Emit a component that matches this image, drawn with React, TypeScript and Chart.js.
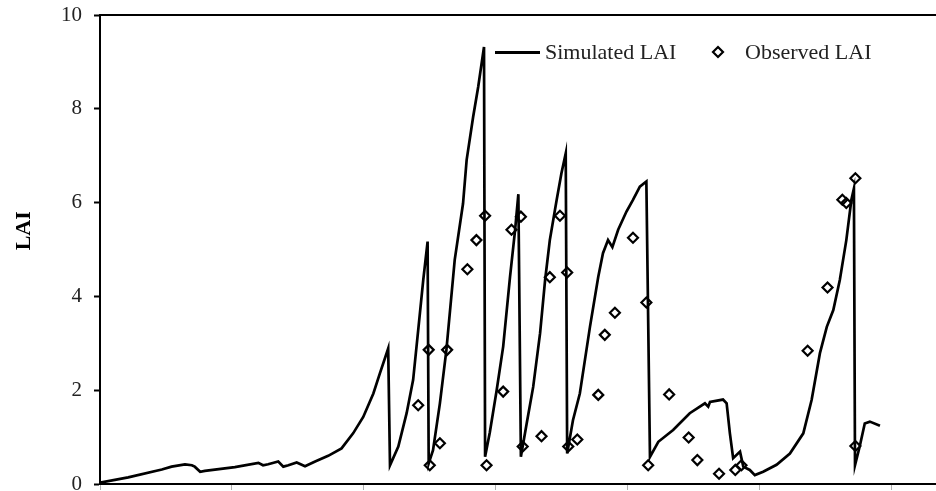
import React, { useEffect, useRef } from "react";
import { Chart, registerables } from "chart.js";

Chart.register(...registerables);

// Days since start of the simulation
const simDays = [
  0, 78, 171, 198, 235, 254, 262, 277, 290, 373, 438, 451, 465, 493, 507, 521, 544, 567, 595, 631,
  668, 700, 728, 756, 774, 797, 802, 825, 848, 866, 880, 894, 906, 909, 921, 940, 958, 981, 1004,
  1014, 1032, 1046, 1062, 1065, 1078, 1097, 1115, 1134, 1148, 1157, 1164, 1180, 1198, 1217, 1231,
  1244, 1263, 1276, 1288, 1292, 1308, 1327, 1355, 1378, 1391, 1405, 1417, 1433, 1456, 1474, 1493,
  1511, 1521, 1544, 1585, 1631, 1673, 1682, 1687, 1723, 1733, 1742, 1751, 1770, 1779, 1797, 1811,
  1834, 1871, 1908, 1945, 1968, 1991, 2010, 2028, 2046, 2064, 2078, 2085, 2088, 2101, 2115, 2129, 2157,
];
const simLAI = [
  0.03, 0.14, 0.31, 0.37, 0.42, 0.4, 0.37, 0.26, 0.28, 0.36, 0.45, 0.4, 0.42, 0.48, 0.37, 0.4, 0.46,
  0.38, 0.48, 0.6, 0.76, 1.08, 1.43, 1.93, 2.36, 2.89, 0.4, 0.8, 1.51, 2.22, 3.28, 4.35, 5.17, 0.44,
  0.72, 1.72, 2.86, 4.78, 5.98, 6.91, 7.83, 8.47, 9.32, 0.58, 1.1, 2.0, 2.93, 4.42, 5.42, 6.18, 0.58,
  1.29, 2.07, 3.21, 4.35, 5.2, 6.06, 6.62, 7.05, 0.65, 1.36, 1.93, 3.35, 4.42, 4.92, 5.2, 5.05, 5.42,
  5.81, 6.06, 6.34, 6.45, 0.58, 0.9, 1.15, 1.51, 1.72, 1.65, 1.75, 1.8, 1.72, 1.08, 0.55, 0.69, 0.37,
  0.3, 0.19, 0.26, 0.41, 0.65, 1.08, 1.79, 2.79, 3.35, 3.71, 4.35, 5.2, 6.06, 6.3, 0.4, 0.8, 1.29,
  1.33, 1.24,
];

const obsDays = [
  880, 909, 912, 940, 960, 1016, 1041, 1065, 1069, 1115, 1138, 1164, 1169, 1221, 1244, 1272, 1292,
  1295, 1320, 1378, 1396, 1424, 1474, 1511, 1516, 1574, 1628, 1652, 1712, 1757, 1774, 1957, 2012,
  2053, 2064, 2089, 2089,
];
const obsLAI = [
  1.68, 2.86, 0.4, 0.87, 2.86, 4.58, 5.2, 5.72, 0.4, 1.97, 5.42, 5.7, 0.8, 1.02, 4.41, 5.72, 4.51,
  0.8, 0.95, 1.9, 3.18, 3.65, 5.25, 3.87, 0.4, 1.91, 0.99, 0.51, 0.22, 0.3, 0.4, 2.84, 4.19, 6.06,
  5.99, 6.52, 0.81,
];

const xTicks = [0, 365, 730, 1095, 1460, 1825, 2190];
const yTicks = [0, 2, 4, 6, 8, 10];
const seriesNames = ["Simulated LAI", "Observed LAI"];
const yTitle = "LAI";

const FONT = "'Liberation Serif', 'Times New Roman', serif";

const frame = {
  id: "frame",
  afterDraw(chart: any) {
    const { ctx, chartArea } = chart;
    ctx.save();
    ctx.strokeStyle = "#000";
    ctx.lineWidth = 2;
    ctx.beginPath();
    ctx.moveTo(chartArea.left - 1, chartArea.top);
    ctx.lineTo(chartArea.right, chartArea.top);
    ctx.stroke();
    // y-axis title, set a little above the middle of the axis as in the original
    const yScale = chart.scales.y;
    ctx.translate(yScale.left + 24, chartArea.top + chartArea.height * 0.46);
    ctx.rotate(-Math.PI / 2);
    ctx.fillStyle = "#000";
    ctx.font = `bold 22px ${FONT}`;
    ctx.textAlign = "center";
    ctx.textBaseline = "middle";
    ctx.fillText(yTitle, 0, 0);
    ctx.restore();
  },
};

export default function App() {
  const ref = useRef<HTMLCanvasElement>(null);

  useEffect(() => {
    if (!ref.current) return;
    const chart = new Chart(ref.current, {
      type: "scatter",
      data: {
        datasets: [
          {
            label: seriesNames[0],
            data: simDays.map((d, i) => ({ x: d, y: simLAI[i] })),
            showLine: true,
            borderColor: "#000",
            borderWidth: 2.7,
            pointRadius: 0,
            tension: 0,
            order: 2,
          },
          {
            label: seriesNames[1],
            data: obsDays.map((d, i) => ({ x: d, y: obsLAI[i] })),
            showLine: false,
            pointStyle: "rectRot",
            pointRadius: 5,
            pointBorderWidth: 2.2,
            borderColor: "#000",
            backgroundColor: "rgba(0,0,0,0)",
            order: 1,
          },
        ],
      },
      options: {
        animation: false,
        responsive: false,
        layout: { autoPadding: false, padding: { top: 15, left: 0, right: 0, bottom: 0 } },
        plugins: { legend: { display: false }, tooltip: { enabled: false } },
        scales: {
          x: {
            type: "linear",
            min: 0,
            max: 2312,
            afterBuildTicks: (s: any) => {
              s.ticks = xTicks.map((v) => ({ value: v }));
            },
            afterFit: (s: any) => {
              s.height = 7;
              s.paddingLeft = 0;
              s.paddingRight = 0;
              s.paddingTop = 0;
              s.paddingBottom = 0;
            },
            ticks: { display: false },
            grid: {
              drawOnChartArea: false,
              drawTicks: true,
              tickLength: 6,
              tickColor: "#b0b0b0",
              tickWidth: 1,
            },
            border: { display: true, color: "#000", width: 2 },
          },
          y: {
            type: "linear",
            min: 0,
            max: 10,
            afterFit: (s: any) => {
              s.width = 100;
              s.paddingTop = 0;
              s.paddingBottom = 0;
              s.paddingLeft = 0;
              s.paddingRight = 0;
            },
            afterBuildTicks: (s: any) => {
              s.ticks = yTicks.map((v) => ({ value: v }));
            },
            ticks: {
              color: "#222",
              padding: 12,
              font: { family: FONT, size: 21 },
            },
            grid: {
              drawOnChartArea: false,
              tickLength: 6,
              tickColor: "#000",
              tickWidth: 2,
            },
            border: { display: true, color: "#000", width: 2 },
            title: { display: false, text: yTitle },
          },
        },
      },
      plugins: [frame],
    });
    return () => chart.destroy();
  }, []);

  const textStyle: React.CSSProperties = {
    position: "absolute",
    top: 41,
    fontFamily: FONT,
    fontSize: 22,
    lineHeight: "22px",
    color: "#222",
    whiteSpace: "nowrap",
  };

  return (
    <div style={{ position: "absolute", left: 0, top: 0, width: 936, height: 491, background: "#fff" }}>
      <canvas ref={ref} width={936} height={491} style={{ width: 936, height: 491, display: "block" }} />
      <div style={{ position: "absolute", left: 495, top: 51, width: 45, height: 2.5, background: "#000" }} />
      <div style={{ ...textStyle, left: 545 }}>{seriesNames[0]}</div>
      <svg style={{ position: "absolute", left: 711, top: 45 }} width={14} height={14}>
        <polygon points="7,2 12,7 7,12 2,7" fill="none" stroke="#000" strokeWidth={2.2} />
      </svg>
      <div style={{ ...textStyle, left: 745 }}>{seriesNames[1]}</div>
    </div>
  );
}
